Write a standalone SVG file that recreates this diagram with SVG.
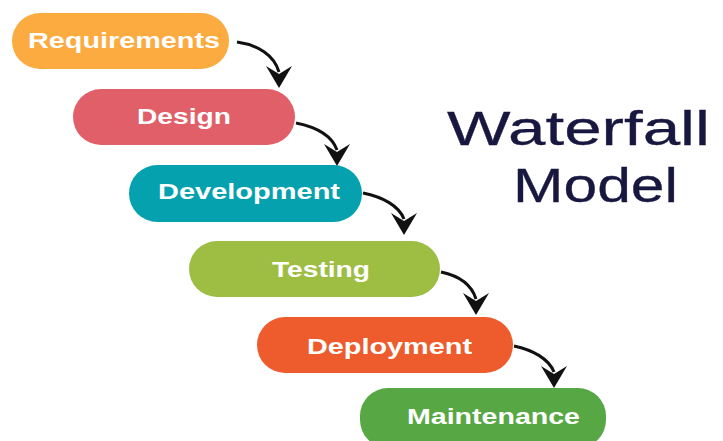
<svg xmlns="http://www.w3.org/2000/svg" xmlns:xlink="http://www.w3.org/1999/xlink" width="723" height="441" viewBox="0 0 723 441">
<style>
.lbl{font-family:"Liberation Sans",Arial,sans-serif;font-weight:bold;font-size:22px;fill:#ffffff;}
.title{font-family:"Liberation Sans",Arial,sans-serif;font-size:48px;fill:#17173f;stroke:#17173f;stroke-width:0.3;}
.conn{fill:none;stroke:#111111;stroke-width:3;}
</style>
<defs>
<path id="head" d="M0,0 L-13,-22 L0,-14 L13,-22 Z" fill="#111111"/>
</defs>
<rect width="723" height="441" fill="#ffffff"/>
<g id="n-requirements">
<rect x="12" y="13" width="217" height="56" rx="28" fill="#fbab40"/>
<text class="lbl" x="28" y="48" textLength="192" lengthAdjust="spacingAndGlyphs">Requirements</text>
</g>
<g id="n-design">
<rect x="73" y="89" width="222" height="56" rx="28" fill="#e15f68"/>
<text class="lbl" x="137" y="124" textLength="94" lengthAdjust="spacingAndGlyphs">Design</text>
</g>
<g id="n-development">
<rect x="129" y="165" width="233" height="57" rx="28.5" fill="#05a1af"/>
<text class="lbl" x="158" y="199" textLength="182" lengthAdjust="spacingAndGlyphs">Development</text>
</g>
<g id="n-testing">
<rect x="189" y="241" width="251" height="56" rx="28" fill="#9ebd43"/>
<text class="lbl" x="272" y="277" textLength="98" lengthAdjust="spacingAndGlyphs">Testing</text>
</g>
<g id="n-deployment">
<rect x="257" y="317" width="256" height="56" rx="28" fill="#ee5b2c"/>
<text class="lbl" x="307" y="354" textLength="165" lengthAdjust="spacingAndGlyphs">Deployment</text>
</g>
<g id="n-maintenance">
<rect x="360" y="388" width="246" height="60" rx="28" fill="#57a845"/>
<text class="lbl" x="407" y="424" textLength="173" lengthAdjust="spacingAndGlyphs">Maintenance</text>
</g>
<g id="title">
<text class="title" x="447" y="145" textLength="263" lengthAdjust="spacingAndGlyphs">Waterfall</text>
<text class="title" x="513" y="202" textLength="165" lengthAdjust="spacingAndGlyphs">Model</text>
</g>
<g id="connectors">
<path class="conn" d="M237,42 C258,45 274,55 279,72"/>
<use xlink:href="#head" transform="translate(279,88)"/>
<path class="conn" d="M296,123 C316,127 332,136 337,150"/>
<use xlink:href="#head" transform="translate(337,166)"/>
<path class="conn" d="M363,193 C383,197 399,206 404,219"/>
<use xlink:href="#head" transform="translate(404,235)"/>
<path class="conn" d="M441,272 C460,276 472,286 476,299"/>
<use xlink:href="#head" transform="translate(476,315)"/>
<path class="conn" d="M514,346 C533,350 549,359 554,372"/>
<use xlink:href="#head" transform="translate(554,388)"/>
</g>
</svg>
